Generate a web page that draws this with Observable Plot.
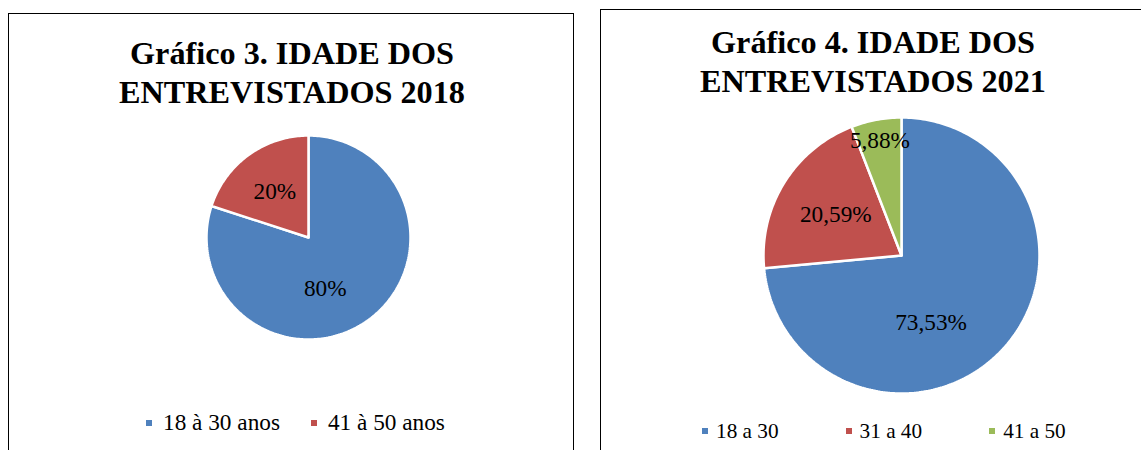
<!DOCTYPE html>
<html><head><meta charset="utf-8">
<script src="https://cdn.jsdelivr.net/npm/d3@7"></script>
<script src="https://cdn.jsdelivr.net/npm/@observablehq/plot@0.6"></script>
<style>
html,body{margin:0;padding:0;background:#fff;width:1141px;height:450px;overflow:hidden;position:relative;color:#000}
.panel{position:absolute;box-sizing:border-box;border:1.5px solid #000;border-bottom:none;height:470px}
.title{position:absolute;width:600px;text-align:center;font-weight:bold;white-space:nowrap}
.legend{position:absolute;display:flex;align-items:center;white-space:nowrap}
.legend .item{display:flex;align-items:center}
.legend .sw{width:6px;height:6px;display:inline-block}
.pie{position:absolute}
.pie svg{display:block;overflow:visible}
</style></head><body>
<div class="panel" style="left:7.5px;top:12.5px;width:566px"></div>
<div class="panel" style="left:600px;top:9px;width:600px"></div>
<div id="t1" class="title" style="left:-8px">Gráfico 3. IDADE DOS<br>ENTREVISTADOS 2018</div>
<div id="t2" class="title" style="left:573px">Gráfico 4. IDADE DOS<br>ENTREVISTADOS 2021</div>
<div id="pie1" class="pie"></div>
<div id="pie2" class="pie"></div>
<div id="leg1" class="legend" style="left:146px"></div>
<div id="leg2" class="legend" style="left:702px"></div>
<script>
const cats2018 = ["18 à 30 anos", "41 à 50 anos"];
const vals2018 = [80, 20];
const cats2021 = ["18 a 30", "31 a 40", "41 a 50"];
const vals2021 = [73.53, 20.59, 5.88];
const colors2018 = ["#4F81BD", "#C0504D"];
const colors2021 = ["#4F81BD", "#C0504D", "#9BBB59"];

// pick an installed serif font
const ctx = document.createElement("canvas").getContext("2d");
function w(font, s) { ctx.font = font; return ctx.measureText(s).width; }
const probe = "ENTREVISTADOS 2018 gráfico";
const candidates = ["Liberation Serif", "Tinos", "Times New Roman", "Times", "DejaVu Serif", "Noto Serif", "FreeSerif", "Nimbus Roman"];
let FAM = "serif";
for (const c of candidates) {
  const a = w(`32px "${c}", monospace`, probe), b = w(`32px monospace`, probe);
  const a2 = w(`32px "${c}", sans-serif`, probe), b2 = w(`32px sans-serif`, probe);
  if (a !== b && a2 !== b2) { FAM = `"${c}"`; break; }
}
const FONT = `${FAM}, serif`;
// scale sizes so widths match the reference
const kBold = 346 / w(`bold 32px ${FONT}`, "ENTREVISTADOS 2018");
const kReg = 117 / w(`23px ${FONT}`, "18 à 30 anos");
const titleSize = 32 * kBold, labelSize = 23 * kReg, leg1Size = 23 * kReg, leg2Size = 21 * kReg;

function setTitle(id, baseline) {
  const el = document.getElementById(id);
  const lh = 39;
  el.style.fontFamily = FONT;
  el.style.fontSize = titleSize + "px";
  el.style.lineHeight = lh + "px";
  el.style.top = "0px";
  // measure baseline offset
  const probeEl = document.createElement("span");
  probeEl.style.cssText = "display:inline-block;width:0;height:0;vertical-align:baseline";
  el.insertBefore(probeEl, el.firstChild);
  const off = probeEl.getBoundingClientRect().top - el.getBoundingClientRect().top;
  el.removeChild(probeEl);
  el.style.top = (baseline - off) + "px";
}
setTitle("t1", 64);
setTitle("t2", 53);

function fmt(v, dec) {
  return (dec ? v.toFixed(dec).replace(".", ",") : String(Math.round(v))) + "%";
}

function pie(cats, vals, colors, dec, r) {
  const total = d3.sum(vals);
  const m = 4;
  const rad = Math.PI / 180;
  let acc = 0;
  const pts = [], labels = [];
  vals.forEach((v, i) => {
    const a0 = acc / total * 360, a1 = (acc + v) / total * 360;
    acc += v;
    const n = Math.max(2, Math.ceil(a1 - a0));
    pts.push({cat: cats[i], x: 0, y: 0});
    for (let k = 0; k <= n; k++) {
      const a = (a0 + (a1 - a0) * k / n) * rad;
      pts.push({cat: cats[i], x: Math.sin(a), y: Math.cos(a)});
    }
    pts.push({cat: cats[i], x: 0, y: 0});
    const frac = v / total, mid = (a0 + a1) / 2;
    const la = (frac > 0.5 ? (mid + 180) / 2 : mid) * rad;
    const lr = frac > 0.5 ? 0.53 : frac < 0.1 ? 0.85 : 0.56;
    labels.push({x: lr * Math.sin(la), y: lr * Math.cos(la), text: fmt(v, dec)});
  });
  return Plot.plot({
    width: 2 * r + 2 * m, height: 2 * r + 2 * m, margin: m,
    x: {domain: [-1, 1], axis: null},
    y: {domain: [-1, 1], axis: null},
    color: {domain: cats, range: colors},
    style: {background: "transparent", fontFamily: FONT, fontSize: labelSize + "px", overflow: "visible"},
    marks: [
      Plot.line(pts, {x: "x", y: "y", z: "cat", fill: "cat", stroke: "white", strokeWidth: 2.5, strokeLinejoin: "miter"}),
      Plot.text(labels, {x: "x", y: "y", text: "text", fill: "#000", fontSize: labelSize, fontFamily: FONT})
    ]
  });
}

function place(id, el, cx, cy, r) {
  const d = document.getElementById(id);
  d.style.left = (cx - r - 4) + "px";
  d.style.top = (cy - r - 4) + "px";
  d.appendChild(el);
}

place("pie1", pie(cats2018, vals2018, colors2018, 0, 102), 307.5, 237, 102);
place("pie2", pie(cats2021, vals2021, colors2021, 2, 138), 901, 255, 138);

function legend(id, cats, colors, size, baseline, gapSw, gapItem) {
  const L = document.getElementById(id);
  L.style.gap = gapItem + "px";
  L.style.fontFamily = FONT;
  L.style.fontSize = size + "px";
  L.style.lineHeight = Math.round(size * 1.15) + "px";
  L.style.top = "0px";
  cats.forEach((c, i) => {
    const it = document.createElement("span");
    it.className = "item";
    const sw = document.createElement("span");
    sw.className = "sw";
    sw.style.background = colors[i];
    sw.style.marginRight = gapSw + "px";
    const t = document.createElement("span");
    t.textContent = c;
    it.appendChild(sw); it.appendChild(t);
    L.appendChild(it);
  });
  const t0 = L.querySelector(".item span:last-child");
  const pr = document.createElement("span");
  pr.style.cssText = "display:inline-block;width:0;height:0;vertical-align:baseline";
  t0.appendChild(pr);
  const off = pr.getBoundingClientRect().top - L.getBoundingClientRect().top;
  t0.removeChild(pr);
  L.style.top = (baseline - off) + "px";
}
legend("leg1", cats2018, colors2018, leg1Size, 430, 11, 31);
legend("leg2", cats2021, colors2021, leg2Size, 438, 8, 67);
</script>
</body></html>
